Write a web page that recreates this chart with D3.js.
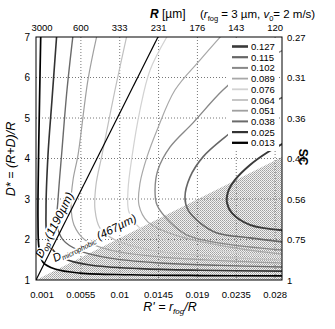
<!DOCTYPE html>
<html><head><meta charset="utf-8">
<script src="https://cdn.jsdelivr.net/npm/d3@7"></script>
<style>
body{margin:0;background:#fff;}
text{font-family:"Liberation Sans Narrow","Arial Narrow","Liberation Sans",Arial,sans-serif;fill:#000;}
text.wide{font-family:"Liberation Sans",Arial,sans-serif;}
</style>
</head><body>
<svg id="c" width="335" height="329"></svg>
<script>
// ---- data ----
const xTicks = [0.001, 0.0055, 0.01, 0.0145, 0.019, 0.0235, 0.028];
const xTickLabels = ["0.001","0.0055","0.01","0.0145","0.019","0.0235","0.028"];
const topTickLabels = ["3000","600","333","231","176","143","120"];
const yTicks = [1,2,3,4,5,6,7];
const scTickLabels = ["1","0.75","0.56","0.44","0.36","0.31","0.27"];
const levels = [0.127,0.115,0.102,0.089,0.076,0.064,0.051,0.038,0.025,0.013];

const c013 = [[0.00085,7.05],[0.00071,5.44],[0.00059,3.96],[0.00053,2.48],[0.00065,1.79],[0.00111,1.44],[0.0025,1.27],[0.0054,1.17],[0.0112,1.13],[0.0193,1.11],[0.0288,1.10]];
const c025 = [[0.0027,7.05],[0.00215,5.44],[0.00169,4.09],[0.00146,2.73],[0.00157,2.11],[0.00227,1.74],[0.00366,1.52],[0.00656,1.37],[0.01235,1.28],[0.0193,1.24],[0.0288,1.22]];
const c038 = [[0.00459,7.05],[0.00389,5.69],[0.00331,4.21],[0.00285,2.98],[0.00273,2.36],[0.00343,1.99],[0.00517,1.74],[0.00887,1.54],[0.01467,1.42],[0.02162,1.36],[0.0288,1.32]];
const c051 = [[0.00737,7.05],[0.00632,5.94],[0.00517,4.09],[0.00459,3.47],[0.00435,2.85],[0.0047,2.36],[0.00598,1.99],[0.00887,1.74],[0.01467,1.57],[0.02162,1.48],[0.0288,1.42]];
const c064 = [[0.01084,7.05],[0.00945,5.69],[0.00795,4.09],[0.00725,3.35],[0.00714,2.73],[0.00771,2.28],[0.00945,1.99],[0.01351,1.74],[0.02046,1.59],[0.0288,1.49]];
const c076 = [[0.01559,7.05],[0.01351,6.18],[0.01235,5.20],[0.01142,4.04],[0.01096,3.22],[0.01107,2.68],[0.01235,2.28],[0.01524,1.99],[0.02162,1.72],[0.0288,1.57]];
const c089 = [[0.02185,7.05],[0.0193,6.43],[0.0164,5.69],[0.01432,4.70],[0.01316,4.04],[0.01235,3.39],[0.01223,2.85],[0.01328,2.43],[0.0164,2.11],[0.02277,1.81],[0.0288,1.64]];
const c102 = [[0.0290,6.68],[0.02509,6.23],[0.02196,5.69],[0.01849,4.88],[0.01582,4.28],[0.01443,3.72],[0.01409,3.22],[0.01432,2.85],[0.01582,2.43],[0.01779,2.11],[0.02162,1.91],[0.0288,1.74]];
const c115 = [[0.0290,5.52],[0.02567,5.15],[0.02277,4.63],[0.01965,4.04],[0.01814,3.54],[0.01756,3.05],[0.01791,2.73],[0.0193,2.41],[0.02127,2.16],[0.02509,2.04],[0.0288,1.94]];
const c127 = [[0.0290,4.38],[0.02718,4.16],[0.02509,3.84],[0.02335,3.47],[0.02254,3.17],[0.02243,2.90],[0.02301,2.65],[0.02509,2.36],[0.0288,2.23]];

const dOpLine = [[0.0003,1],[0.01443,7]];
const microBoundary = [[0.0003,1],[0.0288,4.04],[0.0288,1]];

// ---- styles ----
const contourSets = [c127,c115,c102,c089,c076,c064,c051,c038,c025,c013];
const levelColors = ["#3a3a3a","#666","#888","#a8a8a8","#d2d2d2","#c0c0c0","#a0a0a0","#6a6a6a","#333","#000"];
const levelWidths = [2,1.6,1.4,1.2,1.2,1.2,1.2,1.4,1.6,1.7];

const svg = d3.select('#c');
const L=36,R=282,T=37,B=280;
const x = d3.scaleLinear().domain([0.0003,0.0288]).range([L,R]);
const y = d3.scaleLinear().domain([1,7]).range([B,T]);

const defs = svg.append('defs');
const pat = defs.append('pattern').attr('id','dots').attr('width',2).attr('height',2).attr('patternUnits','userSpaceOnUse');
pat.append('rect').attr('width',2).attr('height',2).attr('fill','#f2f2f2');
pat.append('rect').attr('width',1).attr('height',1).attr('fill','#a0a0a0');
pat.append('rect').attr('x',1).attr('y',1).attr('width',1).attr('height',1).attr('fill','#b4b4b4');
defs.append('clipPath').attr('id','clip').append('rect').attr('x',L).attr('y',T).attr('width',R-L).attr('height',B-T);

const plot = svg.append('g').attr('clip-path','url(#clip)');
plot.append('rect').attr('x',L).attr('y',T).attr('width',R-L).attr('height',B-T).attr('fill','#fff');

// shaded region
plot.append('path').attr('d', d3.line().x(d=>x(d[0])).y(d=>y(d[1]))(microBoundary)+'Z').attr('fill','url(#dots)');

// grid
plot.selectAll('.gx').data(xTicks.slice(1)).enter().append('line')
  .attr('x1',d=>x(d)).attr('x2',d=>x(d)).attr('y1',T).attr('y2',B)
  .attr('stroke','#777').attr('stroke-width',1).attr('stroke-dasharray','1,2');
plot.selectAll('.gy').data(yTicks.slice(1,-1)).enter().append('line')
  .attr('y1',d=>y(d)).attr('y2',d=>y(d)).attr('x1',L).attr('x2',R)
  .attr('stroke','#777').attr('stroke-width',1).attr('stroke-dasharray','1,2');

// contours
const line = d3.line().x(d=>x(d[0])).y(d=>y(d[1])).curve(d3.curveCatmullRom.alpha(0.5));
contourSets.forEach((c,i)=>{
  plot.append('path').attr('d',line(c)).attr('fill','none')
    .attr('stroke',levelColors[i]).attr('stroke-width',levelWidths[i]);
});

// labels on lines
function angleOf(p0,p1){return Math.atan2(y(p1[1])-y(p0[1]), x(p1[0])-x(p0[0]))*180/Math.PI;}
const aOp = angleOf(dOpLine[0],dOpLine[1]);
const tOp = plot.append('text').attr('class','wide')
  .attr('transform',`translate(${x(0.00145)-4},${y(1.5)-1}) rotate(${aOp})`)
  .attr('font-size',12).attr('font-style','italic')
  .attr('stroke','#fff').attr('stroke-width',3).attr('paint-order','stroke');
tOp.append('tspan').text('D');
tOp.append('tspan').attr('font-size',8).attr('dy',2).text('op');
tOp.append('tspan').attr('dy',-2).text(' (1190µm)');

const aMi = angleOf(microBoundary[0],microBoundary[1]);
const tMi = plot.append('text').attr('class','wide')
  .attr('transform',`translate(${x(0.0025)},${y(1.44)}) rotate(${aMi})`)
  .attr('font-size',11.5).attr('font-style','italic')
  .attr('stroke','#fff').attr('stroke-width',3).attr('paint-order','stroke');
tMi.append('tspan').text('D');
tMi.append('tspan').attr('font-size',7).attr('dy',2).text('microphobic');
tMi.append('tspan').attr('dy',-2).text(' (467µm)');

// D_op line (on top of labels)
plot.append('path').attr('d',d3.line().x(d=>x(d[0])).y(d=>y(d[1]))(dOpLine))
  .attr('stroke','#000').attr('stroke-width',1.2).attr('fill','none');

// legend
const lg = svg.append('g');
lg.append('rect').attr('x',228).attr('y',39).attr('width',51).attr('height',112).attr('fill','#fff');
levels.forEach((v,i)=>{
  const yy = 46.5 + i*10.7;
  lg.append('line').attr('x1',232).attr('x2',248).attr('y1',yy).attr('y2',yy)
    .attr('stroke',levelColors[i]).attr('stroke-width',levelWidths[i]+0.6);
  lg.append('text').attr('x',251).attr('y',yy+3.5).attr('font-size',9.5).text(v.toFixed(3));
});

// frame
svg.append('rect').attr('x',L).attr('y',T).attr('width',R-L).attr('height',B-T)
  .attr('fill','none').attr('stroke','#000').attr('stroke-width',1);

// tick labels
svg.selectAll('.bl').data(xTicks).enter().append('text')
  .attr('x',d=>x(d)).attr('y',298).attr('text-anchor','middle').attr('font-size',9.5)
  .text((d,i)=>xTickLabels[i]);
svg.selectAll('.tl').data(xTicks).enter().append('text')
  .attr('x',d=>x(d)).attr('y',31).attr('text-anchor','middle').attr('font-size',9.5)
  .text((d,i)=>topTickLabels[i]);
svg.selectAll('.ll').data(yTicks).enter().append('text')
  .attr('x',30).attr('y',d=>y(d)+3.5).attr('text-anchor','end').attr('font-size',10)
  .text(d=>d);
svg.selectAll('.rl').data(yTicks).enter().append('text')
  .attr('x',287).attr('y',d=>y(d)+3.5).attr('text-anchor','start').attr('font-size',9.5)
  .text((d,i)=>scTickLabels[i]);

// titles
const t1 = svg.append('text').attr('x',150).attr('y',18).attr('font-size',12);
t1.append('tspan').attr('font-style','italic').attr('font-weight','bold').text('R');
t1.append('tspan').text(' [µm]');
const t2 = svg.append('text').attr('x',200).attr('y',18).attr('font-size',11.5);
t2.append('tspan').text('(');
t2.append('tspan').attr('font-style','italic').text('r');
t2.append('tspan').attr('font-size',7.5).attr('dy',2.5).text('fog');
t2.append('tspan').attr('dy',-2.5).text(' = 3 µm, ');
t2.append('tspan').attr('font-style','italic').text('v');
t2.append('tspan').attr('font-size',7.5).attr('dy',2.5).text('0');
t2.append('tspan').attr('dy',-2.5).text('= 2 m/s)');

const xt = svg.append('text').attr('x',170).attr('y',311).attr('text-anchor','middle').attr('font-size',12.5).attr('font-style','italic');
xt.append('tspan').text("R' = r");
xt.append('tspan').attr('font-size',8).attr('dy',2.5).text('fog');
xt.append('tspan').attr('dy',-2.5).text('/R');

svg.append('text').attr('transform','translate(15,159) rotate(-90)').attr('text-anchor','middle')
  .attr('font-size',12.5).attr('font-style','italic').text('D* = (R+D)/R');
svg.append('text').attr('transform','translate(299,157) rotate(90)').attr('text-anchor','middle')
  .attr('font-size',12).attr('font-weight','bold').text('SC');
</script>
</body></html>
